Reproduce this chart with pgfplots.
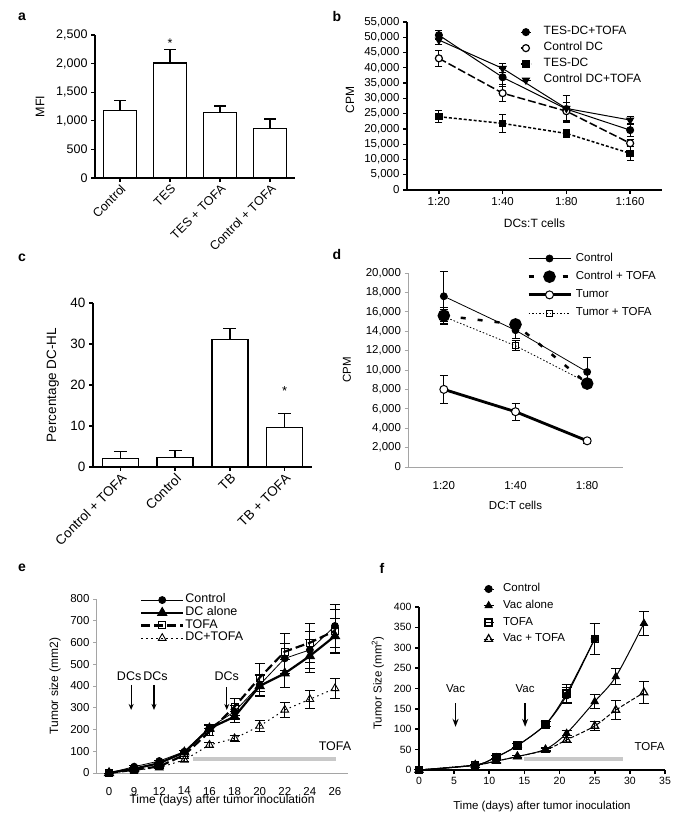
\documentclass[border=0pt]{standalone}
\usepackage{fontspec}
\setmainfont{Liberation Sans}
\usepackage{pgfplots}
\pgfplotsset{compat=1.18}
\usetikzlibrary{arrows.meta}
\newcommand\fs[1]{\fontsize{#1}{#1}\selectfont}
\definecolor{tofagray}{RGB}{200,200,200}
\definecolor{axgray}{RGB}{165,165,165}
\pgfplotsset{
  common/.style={scale only axis, anchor=south west, clip=false,
    axis x line*=bottom, axis y line*=left, axis line style={-},
    tick align=outside, xtick pos=left, ytick pos=left,
    /pgf/number format/assume math mode=true, /pgf/number format/1000 sep={,},
    scaled ticks=false, legend cell align=left},
  gp/.style={common, axis line style={line width=1.3pt, black},
    every tick/.style={line width=1.3pt, black}, major tick length=4pt},
  xl/.style={common, axis line style={line width=0.7pt, axgray},
    every tick/.style={line width=0.7pt, axgray}, major tick length=3.5pt},
  shortleg/.style={legend image code/.code={\draw[mark repeat=2, mark phase=2, ##1] plot coordinates {(0pt,0pt) (5pt,0pt) (10pt,0pt)};}},
  longleg/.style={legend image code/.code={\draw[mark repeat=2, mark phase=2, ##1] plot coordinates {(0pt,0pt) (21pt,0pt) (42pt,0pt)};}},
}
\begin{document}
\begin{tikzpicture}
\path[use as bounding box, fill=white] (0pt,0pt) rectangle (681pt,826pt);
\node[font=\bfseries\fs{14}] at (22pt,809pt) {a};
\node[font=\bfseries\fs{14}] at (337pt,809pt) {b};
\node[font=\bfseries\fs{14}] at (22pt,568pt) {c};
\node[font=\bfseries\fs{14}] at (337pt,571pt) {d};
\node[font=\bfseries\fs{14}] at (22pt,258pt) {e};
\node[font=\bfseries\fs{14}] at (382pt,258pt) {f};

% ---------------- panel a
\begin{axis}[gp, at={(95pt,648pt)}, width=200pt, height=143pt,
  xmin=-0.5, xmax=3.5, ymin=0, ymax=2500, ytick={0,500,...,2500},
  xtick={0,1,2,3}, xticklabels={Control,TES,TES + TOFA,Control + TOFA},
  tick label style={font=\fs{12.5}},
  xticklabel style={rotate=45, anchor=north east, inner sep=1pt},
  ylabel={MFI}, ylabel style={font=\fs{12.5}, at={(axis description cs:-0.275,0.5)}, anchor=center}]
\addplot[ybar, bar width=33pt, fill=white, draw=black, line width=1.3pt,
  error bars/.cd, y dir=plus, y explicit, error bar style={line width=1.3pt, black},
  error mark options={rotate=90, black, mark size=6pt, line width=1.3pt}]
  coordinates {(0,1180) +- (0,170) (1,2010) +- (0,240) (2,1140) +- (0,120) (3,870) +- (0,160)};
\node[font=\fs{12.5}] at (axis cs:1,2360) {*};
\end{axis}

% ---------------- panel b
\begin{axis}[gp, at={(407pt,636pt)}, width=255pt, height=168pt,
  xmin=-0.5, xmax=3.5, ymin=0, ymax=55000, ytick={0,5000,...,55000},
  xtick={0,1,2,3}, xticklabels={1:20,1:40,1:80,1:160},
  tick label style={font=\fs{11.5}}, label style={font=\fs{12}},
  xlabel={DCs:T cells}, xlabel style={at={(axis description cs:0.5,-0.2)}, anchor=center},
  ylabel={CPM}, ylabel style={at={(axis description cs:-0.2235,0.536)}, anchor=center},
  shortleg,
  legend style={at={(axis description cs:0.443,0.978)}, anchor=north west, draw=none, fill=none,
    font=\fs{12}, inner sep=0pt, row sep=3.5pt, nodes={inner sep=1pt, text height=8pt, text depth=2.5pt},
    /tikz/every odd column/.append style={column sep=11pt}}]
\addplot[black, line width=1pt, mark=*, mark size=3.5pt,
  error bars/.cd, y dir=both, y explicit, error bar style={line width=1pt, solid},
  error mark options={rotate=90, mark size=3.5pt, line width=1pt}]
  coordinates {(0,50700) +- (0,1400) (1,36900) +- (0,3000) (2,26500) +- (0,4500) (3,19600) +- (0,2000)};
\addlegendentry{TES-DC+TOFA}
\addplot[black, line width=1.5pt, dash pattern=on 8pt off 3pt, mark=*, mark size=3.5pt,
  mark options={solid, fill=white, line width=1.2pt},
  error bars/.cd, y dir=both, y explicit, error bar style={line width=1pt, solid},
  error mark options={rotate=90, mark size=3.5pt, line width=1pt}]
  coordinates {(0,43100) +- (0,2700) (1,31700) +- (0,2700) (2,25800) +- (0,3000) (3,15300) +- (0,1200)};
\addlegendentry{Control DC}
\addplot[black, line width=1.5pt, dash pattern=on 3pt off 2pt, mark=square*, mark size=3pt,
  mark options={solid},
  error bars/.cd, y dir=both, y explicit, error bar style={line width=1pt, solid},
  error mark options={rotate=90, mark size=3.5pt, line width=1pt}]
  coordinates {(0,24000) +- (0,2000) (1,21800) +- (0,3000) (2,18500) +- (0,1200) (3,12000) +- (0,2200)};
\addlegendentry{TES-DC}
\addplot[black, line width=1pt, mark=triangle*, mark size=4pt, mark options={rotate=180},
  error bars/.cd, y dir=both, y explicit, error bar style={line width=1pt, solid},
  error mark options={rotate=90, mark size=3.5pt, line width=1pt}]
  coordinates {(0,49100) +- (0,1500) (1,39800) +- (0,1500) (2,26700) +- (0,4300) (3,22900) +- (0,1000)};
\addlegendentry{Control DC+TOFA}
\end{axis}

% ---------------- panel c
\begin{axis}[gp, at={(93pt,359pt)}, width=219pt, height=164pt,
  xmin=-0.5, xmax=3.5, ymin=0, ymax=40, ytick={0,10,...,40},
  xtick={0,1,2,3}, xticklabels={Control + TOFA,Control,TB,TB + TOFA},
  tick label style={font=\fs{13.5}},
  xticklabel style={rotate=45, anchor=north east, inner sep=1pt},
  ylabel={Percentage DC-HL}, ylabel style={font=\fs{13.5}, at={(axis description cs:-0.183,0.5)}, anchor=center}]
\addplot[ybar, bar width=36pt, fill=white, draw=black, line width=1.3pt,
  error bars/.cd, y dir=plus, y explicit, error bar style={line width=1.3pt, black},
  error mark options={rotate=90, black, mark size=6.5pt, line width=1.3pt}]
  coordinates {(0,2.1) +- (0,1.6) (1,2.3) +- (0,1.7) (2,31.1) +- (0,2.7) (3,9.7) +- (0,3.4)};
\node[font=\fs{13}] at (axis cs:3,18.6) {*};
\end{axis}

% ---------------- panel d
\begin{axis}[xl, at={(408pt,359pt)}, width=215pt, height=194pt,
  xmin=-0.5, xmax=2.5, ymin=0, ymax=20000, ytick={0,2000,...,20000},
  xtick={0,1,2}, xticklabels={1:20,1:40,1:80}, x tick style={draw=none},
  minor xtick={-0.5,0.5,1.5,2.5}, minor tick length=3.5pt,
  xticklabel style={yshift=-7pt},
  tick label style={font=\fs{11.5}, black}, label style={font=\fs{11.5}},
  xlabel={DC:T cells}, xlabel style={at={(axis description cs:0.5,-0.196)}, anchor=center},
  ylabel={CPM}, ylabel style={at={(axis description cs:-0.284,0.5)}, anchor=center},
  longleg,
  legend style={at={(axis description cs:0.553,1.108)}, anchor=north west, draw=none, fill=none,
    font=\fs{11.5}, inner sep=0pt, row sep=5.7pt, nodes={inner sep=1pt, text height=8pt, text depth=2.5pt},
    /tikz/every odd column/.append style={column sep=3pt}}]
\addplot[black, line width=0.8pt, mark=*, mark size=3.5pt,
  error bars/.cd, y dir=both, y explicit, error bar style={line width=0.8pt, solid},
  error mark options={rotate=90, mark size=4pt, line width=0.8pt}]
  coordinates {(0,17600) +- (0,2600) (1,14100) +- (0,800) (2,9800) +- (0,1500)};
\addlegendentry{Control}
\addplot[black, line width=2.5pt, dash pattern=on 5pt off 12pt, mark=*, mark size=5pt,
  mark options={solid},
  error bars/.cd, y dir=both, y explicit, error bar style={line width=0.8pt, solid},
  error mark options={rotate=90, mark size=4pt, line width=0.8pt}]
  coordinates {(0,15600) +- (0,900) (1,14700) +- (0,300) (2,8600) +- (0,300)};
\addlegendentry{Control + TOFA}
\addplot[black, line width=2.8pt, mark=*, mark size=4pt,
  mark options={fill=white, line width=1pt},
  error bars/.cd, y dir=both, y explicit, error bar style={line width=0.8pt, solid},
  error mark options={rotate=90, mark size=4pt, line width=0.8pt}]
  coordinates {(0,8000) +- (0,1400) (1,5700) +- (0,900) (2,2700) +- (0,250)};
\addlegendentry{Tumor}
\addplot[black, line width=0.8pt, dash pattern=on 1.5pt off 2pt, mark=square, mark size=3pt,
  mark options={solid, fill=white, line width=0.8pt},
  error bars/.cd, y dir=both, y explicit, error bar style={line width=0.8pt, solid},
  error mark options={rotate=90, mark size=4pt, line width=0.8pt}]
  coordinates {(0,15500) +- (0,700) (1,12500) +- (0,500) (2,8700) +- (0,300)};
\addlegendentry{Tumor + TOFA}
\end{axis}

% ---------------- panel e
\begin{axis}[xl, at={(96.5pt,53pt)}, width=251pt, height=174pt,
  xmin=-0.5, xmax=9.5, ymin=0, ymax=800, ytick={0,100,...,800},
  xtick={0,1,...,9}, xticklabels={0,9,12,14,16,18,20,22,24,26}, x tick style={draw=none},
  minor xtick={-0.5,0.5,...,9.5}, minor tick length=3.5pt,
  xticklabel style={yshift=-7pt},
  tick label style={font=\fs{11.5}, black}, label style={font=\fs{12}},
  xlabel={Time (days) after tumor inoculation}, xlabel style={at={(axis description cs:0.5,-0.158)}, anchor=center},
  ylabel={Tumor size (mm2)}, ylabel style={at={(axis description cs:-0.165,0.5)}, anchor=center},
  longleg,
  legend style={at={(axis description cs:0.173,1.031)}, anchor=north west, draw=none, fill=none,
    font=\fs{12.5}, inner sep=0pt, row sep=0.2pt, nodes={inner sep=1pt, text height=8pt, text depth=2.5pt},
    /tikz/every odd column/.append style={column sep=0pt}}]
\addplot[tofagray, line width=4pt, forget plot] coordinates {(3.35,64) (9.05,64)};
\addplot[black, line width=0.8pt, mark=*, mark size=3.5pt,
  error bars/.cd, y dir=both, y explicit, error bar style={line width=0.8pt, solid},
  error mark options={rotate=90, mark size=5pt, line width=0.8pt}]
  coordinates {(0,0) +- (0,0) (1,29) +- (0,5) (2,55) +- (0,5) (3,98) +- (0,8) (4,208) +- (0,15) (5,282) +- (0,30) (6,405) +- (0,50) (7,527) +- (0,70) (8,566) +- (0,85) (9,676) +- (0,100)};
\addlegendentry{Control}
\addplot[black, line width=2.2pt, mark=triangle*, mark size=4pt,
  error bars/.cd, y dir=both, y explicit, error bar style={line width=0.8pt, solid},
  error mark options={rotate=90, mark size=5pt, line width=0.8pt}]
  coordinates {(0,0) +- (0,0) (1,20) +- (0,5) (2,45) +- (0,5) (3,95) +- (0,8) (4,205) +- (0,15) (5,259) +- (0,25) (6,400) +- (0,50) (7,458) +- (0,66) (8,538) +- (0,75) (9,630) +- (0,80)};
\addlegendentry{DC alone}
\addplot[black, line width=2.2pt, dash pattern=on 9pt off 4pt, mark=square, mark size=3.5pt,
  mark options={solid, fill=white, line width=1pt},
  error bars/.cd, y dir=both, y explicit, error bar style={line width=0.8pt, solid},
  error mark options={rotate=90, mark size=5pt, line width=0.8pt}]
  coordinates {(0,0) +- (0,0) (1,15) +- (0,5) (2,30) +- (0,5) (3,83) +- (0,8) (4,190) +- (0,15) (5,305) +- (0,40) (6,438) +- (0,65) (7,558) +- (0,85) (8,599) +- (0,90) (9,654) +- (0,100)};
\addlegendentry{TOFA}
\addplot[black, line width=1pt, dash pattern=on 1.5pt off 3.5pt, mark=triangle, mark size=4.5pt,
  mark options={solid, fill=white, line width=0.9pt},
  error bars/.cd, y dir=both, y explicit, error bar style={line width=0.8pt, solid},
  error mark options={rotate=90, mark size=5pt, line width=0.8pt}]
  coordinates {(0,0) +- (0,0) (1,12) +- (0,3) (2,25) +- (0,4) (3,60) +- (0,6) (4,129) +- (0,12) (5,159) +- (0,12) (6,216) +- (0,25) (7,290) +- (0,35) (8,339) +- (0,40) (9,389) +- (0,45)};
\addlegendentry{DC+TOFA}
\addplot[-{Stealth[length=6pt,width=5pt]}, line width=1.2pt, forget plot] coordinates {(0.88,405) (0.88,290)};
\addplot[-{Stealth[length=6pt,width=5pt]}, line width=1.2pt, forget plot] coordinates {(1.79,405) (1.79,290)};
\addplot[-{Stealth[length=6pt,width=5pt]}, line width=1.2pt, forget plot] coordinates {(4.69,395) (4.69,290)};
\node[font=\fs{12.5}] at (axis cs:0.8,446) {DCs};
\node[font=\fs{12.5}] at (axis cs:1.85,446) {DCs};
\node[font=\fs{12.5}] at (axis cs:4.69,446) {DCs};
\node[font=\fs{12.5}] at (axis cs:9.0,124) {TOFA};
\end{axis}

% ---------------- panel f
\begin{axis}[gp, at={(419pt,56pt)}, width=246pt, height=163pt,
  axis line style={line width=1.6pt}, every tick/.style={line width=1.6pt, black},
  xmin=0, xmax=35, ymin=0, ymax=400, xtick={0,5,...,35}, ytick={0,50,...,400},
  tick label style={font=\fs{10.5}}, label style={font=\fs{11.5}},
  xlabel={Time (days) after tumor inoculation}, xlabel style={at={(axis description cs:0.5,-0.227)}, anchor=center},
  ylabel={Tumor Size (mm\textsuperscript{2})}, ylabel style={at={(axis description cs:-0.167,0.534)}, anchor=center},
  shortleg,
  legend style={at={(axis description cs:0.26,1.15)}, anchor=north west, draw=none, fill=none,
    font=\fs{11.5}, inner sep=0pt, row sep=4.2pt, nodes={inner sep=1pt, text height=8pt, text depth=2.5pt},
    /tikz/every odd column/.append style={column sep=8pt}}]
\addplot[tofagray, line width=3.5pt, forget plot] coordinates {(15,27) (29,27)};
\addplot[black, line width=1pt, smooth, mark=*, mark size=3.5pt,
  error bars/.cd, y dir=both, y explicit, error bar style={line width=1pt, solid},
  error mark options={rotate=90, mark size=5pt, line width=1pt}]
  coordinates {(0,0) +- (0,0) (8,12) +- (0,2) (11,32) +- (0,3) (14,60) +- (0,4) (18,112) +- (0,6) (21,183) +- (0,20) (25,322) +- (0,38)};
\addlegendentry{Control}
\addplot[black, line width=1pt, smooth, mark=triangle*, mark size=4pt,
  error bars/.cd, y dir=both, y explicit, error bar style={line width=1pt, solid},
  error mark options={rotate=90, mark size=5pt, line width=1pt}]
  coordinates {(0,0) +- (0,0) (8,12) +- (0,2) (11,22) +- (0,3) (14,33) +- (0,3) (18,51) +- (0,4) (21,90) +- (0,6) (25,168) +- (0,17) (28,229) +- (0,19) (32,360) +- (0,30)};
\addlegendentry{Vac alone}
\addplot[black, line width=1pt, smooth, mark=square, mark size=3.5pt,
  mark options={fill=white, line width=1.4pt},
  error bars/.cd, y dir=both, y explicit, error bar style={line width=1pt, solid},
  error mark options={rotate=90, mark size=5pt, line width=1pt}]
  coordinates {(0,0) +- (0,0) (8,12) +- (0,2) (11,32) +- (0,3) (14,60) +- (0,4) (18,112) +- (0,6) (21,188) +- (0,22) (25,322) +- (0,38)};
\addlegendentry{TOFA}
\addplot[black, line width=1pt, smooth, dash pattern=on 4pt off 2pt, mark=triangle, mark size=4.5pt,
  mark options={solid, fill=white, line width=1.2pt},
  error bars/.cd, y dir=both, y explicit, error bar style={line width=1pt, solid},
  error mark options={rotate=90, mark size=5pt, line width=1pt}]
  coordinates {(0,0) +- (0,0) (8,12) +- (0,2) (11,22) +- (0,3) (14,33) +- (0,3) (18,49) +- (0,4) (21,74) +- (0,6) (25,108) +- (0,12) (28,147) +- (0,23) (32,190) +- (0,28)};
\addlegendentry{Vac + TOFA}
\addplot[-{Stealth[length=8pt,width=6pt]}, line width=1.6pt, forget plot] coordinates {(5.2,164) (5.2,106)};
\addplot[-{Stealth[length=8pt,width=6pt]}, line width=1.6pt, forget plot] coordinates {(15.1,164) (15.1,106)};
\node[font=\fs{11.5}] at (axis cs:5.2,200) {Vac};
\node[font=\fs{11.5}] at (axis cs:15.1,200) {Vac};
\node[font=\fs{11.5}] at (axis cs:32.8,57) {TOFA};
\end{axis}
\end{tikzpicture}
\end{document}
